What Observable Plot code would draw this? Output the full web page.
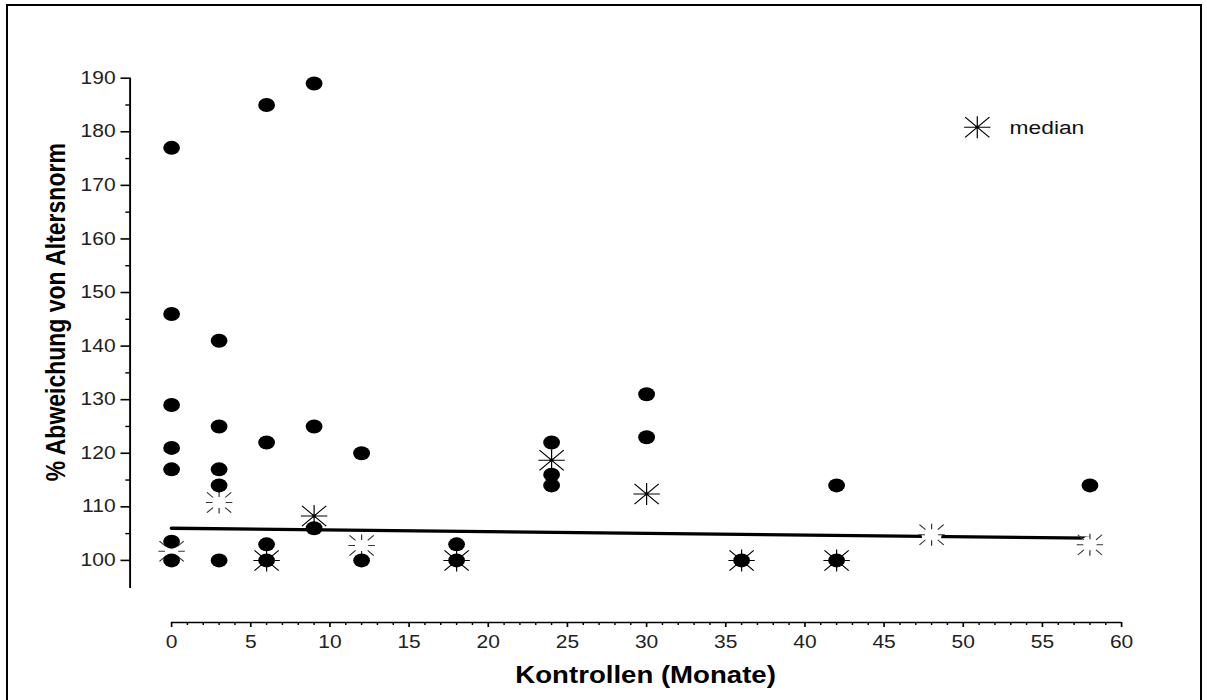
<!DOCTYPE html>
<html><head><meta charset="utf-8">
<script src="https://cdn.jsdelivr.net/npm/d3@7"></script>
<script src="https://cdn.jsdelivr.net/npm/@observablehq/plot@0.6"></script>
<style>
html,body{margin:0;padding:0;background:#fff;overflow:hidden;width:1207px;height:700px}
#chart{position:absolute;left:0;top:0;width:1006px;height:700px;transform:scaleX(1.2);transform-origin:0 0}
#frame{position:absolute;left:6px;top:4px;width:1196px;height:720px;border:2px solid #000;box-sizing:border-box}
</style></head><body>
<div id="chart"></div><div id="frame"></div>
<script>
// ---- data ----
const pointMonths = [0,0,0,0,0,0,0, 3,3,3,3,3, 6,6,6,6, 9,9,9, 12,12, 18,18, 24,24,24, 30,30, 36, 42,42, 58];
const pointValues = [177,146,129,121,117,103.5,100, 141,125,117,114,100, 185,122,103,100, 189,125,106, 120,100, 103,100, 122,116,114, 131,123, 100, 114,100, 114];
const medianMonths = [0,3,6,9,12,18,24,30,36,42,48,58];
const medianValues = [101.7,110.8,100,108.3,102.8,100,118.7,112.4,100,100,104.8,102.9];
const trendMonths = [0,58];
const trendValues = [106,104.15];
const xTicks = [0,5,10,15,20,25,30,35,40,45,50,55,60];
const yTicks = [100,110,120,130,140,150,160,170,180,190];
const xLabel = "Kontrollen (Monate)";
const yLabel = "% Abweichung von Altersnorm";
const legendLabel = "median";

// ---- layout ----
const S = 1.2;               // horizontal stretch of the picture
const W = 1006, H = 700;
const mL = 129.5 / S, mT = 77.7, mB = H - 586.7, mR = 39;
const xRange = [171 / S, 1121 / S];
const xAxisShift = 622 - 586.7;
const font = "'Liberation Sans', Arial, sans-serif";

const points = pointMonths.map((m, i) => ({m, v: pointValues[i]}));
const medians = medianMonths.map((m, i) => ({m, v: medianValues[i]}));
const trend = trendMonths.map((m, i) => ({m, v: trendValues[i]}));
const outlined = new Set([0, 3, 12, 48, 58]);

function starPath(ctx, r, inner, dot) {
  const dirs = [[1, 0], [0, 1], [0.92, 0.92], [0.92, -0.92]];
  for (const [a, b] of dirs) {
    if (!inner) { ctx.moveTo(-a * r, -b * r); ctx.lineTo(a * r, b * r); }
    else {
      ctx.moveTo(a * inner * r, b * inner * r); ctx.lineTo(a * r, b * r);
      ctx.moveTo(-a * inner * r, -b * inner * r); ctx.lineTo(-a * r, -b * r);
    }
  }
  if (dot) { ctx.moveTo(1.3, 0); ctx.arc(0, 0, 1.3, 0, 2 * Math.PI); }
}
const star8 = {draw(ctx, size) { starPath(ctx, Math.sqrt(size / Math.PI), 0, true); }};
const star8Outline = {draw(ctx, size) { starPath(ctx, Math.sqrt(size / Math.PI), 0.5, false); }};

const frameCx = (mL + W - mR) / 2;
const frameCy = (mT + H - mB) / 2;

const chart = Plot.plot({
  width: W, height: H,
  marginLeft: mL, marginTop: mT, marginBottom: mB, marginRight: mR,
  style: {fontFamily: font, fontSize: "17.5px", color: "#000", background: "transparent"},
  x: {domain: [0, 60], range: xRange},
  y: {domain: [95, 190]},
  marks: [
    Plot.frame({anchor: "left", strokeWidth: 1.6}),
    Plot.axisY({ticks: yTicks, tickSize: 7.5, tickPadding: 4.6, strokeWidth: 1.6, label: null, fontSize: 17.5, fill: "#222"}),
    Plot.axisY({ticks: d3.range(105, 190, 10), tickSize: 3.5, tickFormat: () => "", strokeWidth: 1.4, label: null}),
    Plot.ruleY([95], {x1: 0, x2: 60, dy: xAxisShift, strokeWidth: 1.6}),
    Plot.axisX({ticks: xTicks, tickSize: 5, tickPadding: 8, dy: xAxisShift, strokeWidth: 1.4, label: null, fontSize: 17.5, fill: "#222"}),
    Plot.axisX({ticks: d3.range(1, 60).filter(d => d % 5), tickSize: 3, tickFormat: () => "", dy: xAxisShift, strokeWidth: 1.2, label: null}),
    Plot.line(trend, {x: "m", y: "v", stroke: "#000", strokeWidth: 3.3}),
    Plot.dot(medians.filter(d => outlined.has(d.m)), {x: "m", y: "v", r: 8.5, fill: "white", stroke: "none"}),
    Plot.dot(medians.filter(d => outlined.has(d.m)), {x: "m", y: "v", r: 11, symbol: star8Outline, fill: "none", stroke: "#333", strokeWidth: 1}),
    Plot.dot(medians.filter(d => !outlined.has(d.m)), {x: "m", y: "v", r: 11, symbol: star8, fill: "none", stroke: "#000", strokeWidth: 1}),
    Plot.dot(points, {x: "m", y: "v", r: 7, fill: "#000", stroke: "none"}),
    Plot.text([xLabel], {text: d => d, frameAnchor: "bottom", textAnchor: "middle", lineAnchor: "middle", dx: 537.5 - frameCx, dy: 88.6, fontWeight: "bold", fontSize: 23, fill: "#000"}),
    Plot.text([yLabel], {text: d => d, frameAnchor: "left", textAnchor: "middle", lineAnchor: "middle", rotate: -90, dx: 46.2 - mL, dy: 311.7 - frameCy, fontWeight: "bold", fontSize: 23, fill: "#000"}),
    Plot.dot([legendLabel], {x: null, y: null, frameAnchor: "top-left", dx: 813.9 - mL, dy: 126.7 - mT, r: 11, symbol: star8, fill: "none", stroke: "#000", strokeWidth: 1}),
    Plot.text([legendLabel], {text: d => d, frameAnchor: "top-left", textAnchor: "start", lineAnchor: "middle", dx: 840.8 - mL, dy: 127 - mT, fontSize: 19, fill: "#111"})
  ]
});
document.getElementById("chart").appendChild(chart);
</script>
</body></html>
